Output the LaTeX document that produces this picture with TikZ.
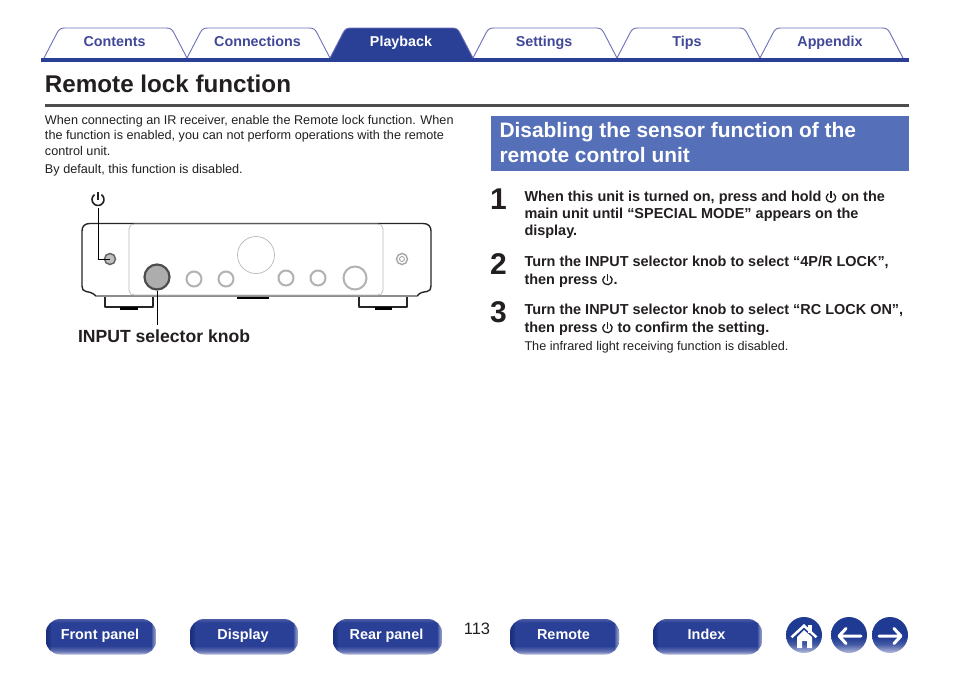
\documentclass[tikz,border=0pt]{standalone}
\usepackage{fontspec}
\setmainfont{Liberation Sans}
\usetikzlibrary{calc}
\definecolor{navy}{HTML}{2A4096}
\definecolor{navyd}{HTML}{1B2C78}
\definecolor{tabline}{HTML}{6C6FB8}
\definecolor{tabtext}{HTML}{41489A}
\definecolor{headbox}{HTML}{5570B8}
\definecolor{rulegrey}{HTML}{4D4D4D}
\definecolor{ink}{HTML}{231F20}
\definecolor{circtop}{HTML}{1F3A92}
\definecolor{circlow}{HTML}{B9BEDD}
\pgfdeclareverticalshading{circshade}{100bp}{color(0bp)=(circlow);color(25bp)=(circlow);color(37bp)=(circtop!75!circlow);color(47bp)=(circtop);color(100bp)=(circtop)}
\pgfdeclareverticalshading{btnshade}{100bp}{color(0bp)=(circlow);color(25bp)=(circlow);color(30bp)=(navy!62!circlow);color(37bp)=(navy);color(70bp)=(navy);color(75bp)=(navy!85!white);color(100bp)=(navy!85!white)}
\newcommand{\fs}[1]{\fontsize{#1}{#1}\selectfont}
\newcommand{\tabshape}[6]{%
 \draw[#6] (#1,58) -- (#2,33) .. controls ($(#2,33)+(2,-4)$) and ($(#2,33)+(4,-5)$) .. ($(#2,28)+(8,0)$)
   -- ($(#3,28)-(8,0)$) .. controls ($(#3,33)+(-4,-5)$) and ($(#3,33)+(-2,-4)$) .. (#3,33) -- (#4,58);}
\newcommand{\btn}[4]{% name, x1, x2, label
 \begin{scope}
 \clip[rounded corners=14pt] (#2,619) rectangle (#3,654.5);
 \shade[shading=btnshade] (#2,619) rectangle (#3,654.5);
 \foreach \i/\o in {0/.3,1/.3,2/.3,3/.25}{
   \fill[navyd,fill opacity=\o] (#2,619) rectangle ($(#2,654.5)+(4.5-\i,0)$);}
 \foreach \i/\o in {0/.14,1/.14,2/.14,3/.14}{
   \fill[white,fill opacity=\o] ($(#3,619)-(4.5-\i,0)$) rectangle (#3,654.5);}
 \end{scope}
 \node[txt,white,font=\fs{14.4}\bfseries,anchor=base] (#1) at ($(#2,639)!0.5!(#3,639)+(-1,0)$) {#4};}
\tikzset{
 x=1pt,y=-1pt,
 txt/.style={inner sep=0pt,outer sep=0pt},
 bodytxt/.style={txt,anchor=base west,text=ink,font=\fs{12.66}},
 steptxt/.style={txt,anchor=base west,text=ink,font=\fs{14.45}\bfseries},
 stepnum/.style={txt,anchor=base west,text=ink,font=\fs{30}\bfseries},
 tabtxt/.style={txt,anchor=base,text=tabtext,font=\fs{14.3}\bfseries},
 tabdraw/.style={draw=tabline,line width=0.9pt,line join=round},
 headtxt/.style={txt,anchor=base west,text=white,font=\fs{20.9}\bfseries},
 soft/.style={draw=black!28,line width=0.7pt},
 outline/.style={draw=black!85,line width=1.4pt,line join=round},
 leader/.style={draw=black,line width=0.9pt},
 navcirc/.style={circle,shading=circshade,minimum size=36pt,inner sep=0pt},
}
\newcommand{\pwr}[3]{% x,y,radius
 \draw[ink,line width=#3*0.27pt] ($(#1,#2)+(#3*0.57,-#3*0.82)$) arc[start angle=55,end angle=-235,radius=#3 pt];
 \draw[ink,line width=#3*0.27pt] (#1,#2-#3*1.3) -- (#1,#2+#3*0.15);}
\begin{document}
\begin{tikzpicture}
\useasboundingbox (0,0) rectangle (954,673);
\fill[white] (0,0) rectangle (954,673);
% tabs
\tabshape{44}{57}{174}{187}{}{tabdraw}
\tabshape{187}{200}{317}{330}{}{tabdraw}
\tabshape{330}{343}{460}{473}{}{tabdraw,fill=navy}
\tabshape{473}{486}{604}{617}{}{tabdraw}
\tabshape{617}{630}{747}{760}{}{tabdraw}
\tabshape{760}{773}{890}{903}{}{tabdraw}
\fill[navy] (41,58) rectangle (909,62);
\node[tabtxt] (t1) at (114.5,46) {Contents};
\node[tabtxt] (t2) at (257.5,46) {Connections};
\node[tabtxt,text=white] (t3) at (401,46) {Playback};
\node[tabtxt] (t4) at (544,46) {Settings};
\node[tabtxt] (t5) at (687,46) {Tips};
\node[tabtxt] (t6) at (830,46) {Appendix};
% title
\node[txt,anchor=base west,text=ink,font=\fs{24.2}\bfseries] (title) at (45,92) {Remote lock function};
\fill[rulegrey] (45,104) rectangle (909,106.8);
% left text
\node[bodytxt] (b1) at (45,124) {When connecting an IR receiver, enable the Remote lock function. When};
\node[bodytxt] (b2) at (45,139) {the function is enabled, you can not perform operations with the remote};
\node[bodytxt] (b3) at (45,155) {control unit.};
\node[bodytxt] (b4) at (45,173) {By default, this function is disabled.};
% right heading
\fill[headbox] (491,116) rectangle (909,171);
\node[headtxt] (h1) at (499.5,137) {Disabling the sensor function of the};
\node[headtxt] (h2) at (499.5,162) {remote control unit};
% steps
\node[stepnum] (n1) at (490,209) {1};
\node[stepnum] (n2) at (490,274) {2};
\node[stepnum] (n3) at (490,322) {3};
\node[steptxt] (s1a) at (524.5,201) {When this unit is turned on, press and hold\hspace{20pt}on the};
\node[steptxt] (s1b) at (524.5,218) {main unit until “SPECIAL MODE” appears on the};
\node[steptxt] (s1c) at (524.5,235) {display.};
\node[steptxt] (s2a) at (524.5,266) {Turn the INPUT selector knob to select “4P/R LOCK”,};
\node[steptxt] (s2b) at (524.5,284) {then press\hspace{16pt}.};
\node[steptxt] (s3a) at (524.5,314) {Turn the INPUT selector knob to select “RC LOCK ON”,};
\node[steptxt] (s3b) at (524.5,332) {then press\hspace{20pt}to confirm the setting.};
\node[bodytxt] (s3c) at (524.5,350) {The infrared light receiving function is disabled.};
\pwr{831}{197.5}{4.7}
\pwr{607.5}{280}{4.7}
\pwr{607.5}{328}{4.7}
% device
\draw[outline,line width=1.1pt] (105,296) -- (105,307) -- (153,307) -- (153,296);
\fill[black] (120,306.5) rectangle (138,309.5);
\draw[outline,line width=1.1pt] (359,296) -- (359,307) -- (407,307) -- (407,296);
\fill[black] (375,306.5) rectangle (392,309.5);
\draw[outline] (96,296) .. controls (92,292) and (88,292) .. (86,291.5) .. controls (83,291) and (82,289) .. (82,286) -- (82,231) .. controls (82,226) and (85,223.5) .. (90,223.5) -- (423,223.5) .. controls (428,223.5) and (431,226) .. (431,231) -- (431,286) .. controls (431,289) and (430,291) .. (427,291.5) .. controls (424,292) and (420,292) .. (417,296);
\draw[draw=black!45,line width=1.4pt] (96,296) -- (417,296);
\draw[soft] (135,224) -- (377,224) .. controls (381,224) and (383,226) .. (383,229) -- (383,290) .. controls (383,293) and (381,295) .. (377,295) -- (135,295) .. controls (131,295) and (129,293) .. (129,290) -- (129,229) .. controls (129,226) and (131,224) .. (135,224);
\fill[black] (237,297) rectangle (269,298.5);
\node[circle,soft,minimum size=37pt,inner sep=0pt] (dial) at (256,255) {};
\node[circle,draw=black!30,line width=2pt,minimum size=15pt,inner sep=0pt] (k1) at (194,279) {};
\node[circle,draw=black!30,line width=2pt,minimum size=15pt,inner sep=0pt] (k2) at (226,279) {};
\node[circle,draw=black!30,line width=2pt,minimum size=15pt,inner sep=0pt] (k3) at (286,278) {};
\node[circle,draw=black!30,line width=2pt,minimum size=15pt,inner sep=0pt] (k4) at (318,278) {};
\node[circle,draw=black!30,line width=2pt,minimum size=23pt,inner sep=0pt] (k5) at (355,278) {};
\node[circle,draw=black!70,fill=black!32,line width=2.2pt,minimum size=25pt,inner sep=0pt] (knob) at (157,277) {};
\node[circle,draw=black!35,line width=1.4pt,minimum size=11pt,inner sep=0pt] (jr) at (402,259) {};
\node[circle,draw=black!40,line width=0.8pt,minimum size=5pt,inner sep=0pt] (jri) at (402,259) {};
\node[circle,draw=black!60,line width=1.5pt,fill=black!25,minimum size=11pt,inner sep=0pt] (jack) at (110,259) {};
\coordinate (pwrtip) at (98,208);
\coordinate (lbltop) at (157,325);
\pwr{98}{199.5}{6}
\draw[leader] (pwrtip) |- (jack.center);
\draw[leader] (knob.south) -- (lbltop);
\node[txt,anchor=base west,text=ink,font=\fs{17.6}\bfseries] (lbl) at (78,342) {INPUT selector knob};
% footer
\btn{f1}{46}{156}{Front panel}
\btn{f2}{190}{298}{Display}
\btn{f3}{333}{442}{Rear panel}
\btn{f4}{510}{619}{Remote}
\btn{f5}{653}{762}{Index}
\node[txt,anchor=base,text=ink,font=\fs{16.5}] (pg) at (477,634) {113};
% home and arrows
\node[navcirc] (home) at (804,635) {};
\node[navcirc] (back) at (849,635) {};
\node[navcirc] (fwd) at (890,635) {};
\fill[white] (807.5,625) rectangle (812,633);
\fill[white] (790.5,636.5) -- (804,624) -- (817.5,636.5) -- (815.5,638) -- (804,627.5) -- (792.5,638) -- cycle;
\fill[white] (797,637) -- (804,630) -- (812,637) -- (812,648) -- (807,648) -- (807,641) -- (802,641) -- (802,648) -- (797,648) -- cycle;
\draw[white,line width=3pt,line cap=round,line join=round] (846,628.5) -- (839,636) -- (846,643.5) (840,636) -- (861,636);
\draw[white,line width=3pt,line cap=round,line join=round] (894,628.5) -- (901,636) -- (894,643.5) (879,636) -- (900,636);
\end{tikzpicture}
\end{document}
